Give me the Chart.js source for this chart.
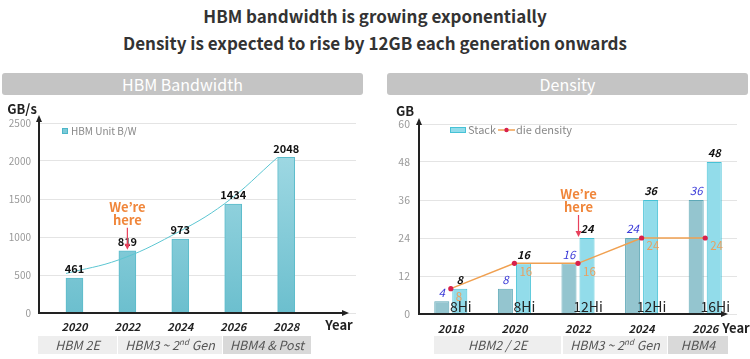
<!DOCTYPE html>
<html>
<head>
<meta charset="utf-8">
<script src="https://cdn.jsdelivr.net/npm/chart.js@4.4.1/dist/chart.umd.min.js"></script>
<style>
body { margin:0; width:750px; height:359px; background:#fff; position:relative; overflow:hidden; font-family:"Noto Sans CJK KR","Noto Sans",sans-serif; }
.title { position:absolute; left:0; width:750px; text-align:center; font-weight:bold; font-size:17px; color:#333; line-height:22px; }
.head { position:absolute; top:73px; height:22px; background:#c4c4c4; border-radius:3px; color:#fff; font-size:16px; line-height:22px; text-align:center; }
.gen { position:absolute; top:336px; height:18px; line-height:18px; background:#eeeeee; color:#555; font-style:italic; font-size:12.5px; text-align:center; }
.gen.dark { background:#d9d9d9; }
.gen sup { font-size:8px; vertical-align:top; line-height:12px; }
canvas { position:absolute; top:100px; }
</style>
</head>
<body>
<div class="title" style="top:5px">HBM bandwidth is growing exponentially</div>
<div class="title" style="top:32px">Density is expected to rise by 12GB each generation onwards</div>

<div class="head" style="left:2px;width:361px">HBM Bandwidth</div>
<div class="head" style="left:387px;width:361px">Density</div>

<canvas id="bwChart" width="370" height="240" style="left:0"></canvas>
<canvas id="denChart" width="375" height="240" style="left:375px"></canvas>

<div class="gen" style="left:38px;width:79px">HBM 2E</div>
<div class="gen" style="left:118px;width:104px">HBM3 ~ 2<sup>nd</sup> Gen</div>
<div class="gen dark" style="left:223px;width:88px">HBM4 &amp; Post</div>

<div class="gen" style="left:434px;width:127px">HBM2 / 2E</div>
<div class="gen" style="left:563px;width:104px">HBM3 ~ 2<sup>nd</sup> Gen</div>
<div class="gen dark" style="left:668px;width:60px">HBM4</div>

<script>
// bandwidth chart data
let bwYears = [2020, 2022, 2024, 2026, 2028];
let bwValues = [461, 819, 973, 1434, 2048];
let bwTrend = [520, 700, 1020, 1440, 2048];
let bwTicks = [0, 500, 1000, 1500, 2000, 2500];

// density chart data
let denYears = [2018, 2020, 2022, 2024, 2026];
let denPrev = [4, 8, 16, 24, 36];
let denStack = [8, 16, 24, 36, 48];
let denDie = [8, 16, 16, 24, 24];
let denHi = ['8Hi', '8Hi', '12Hi', '12Hi', '16Hi'];
let denTicks = [0, 12, 24, 36, 48, 60];

const FONT = '"Noto Sans CJK KR", "Noto Sans", sans-serif';

function drawAxes(ctx, a, yTip, xTip) {
    ctx.strokeStyle = '#222';
    ctx.fillStyle = '#222';
    ctx.lineWidth = 2;
    ctx.beginPath();
    ctx.moveTo(a.left, a.bottom + 1);
    ctx.lineTo(a.left, yTip + 5);
    ctx.moveTo(a.left - 1, a.bottom);
    ctx.lineTo(xTip - 5, a.bottom);
    ctx.stroke();
    ctx.beginPath();
    ctx.moveTo(a.left, yTip);
    ctx.lineTo(a.left - 3, yTip + 7);
    ctx.lineTo(a.left + 3, yTip + 7);
    ctx.closePath();
    ctx.fill();
    ctx.beginPath();
    ctx.moveTo(xTip, a.bottom);
    ctx.lineTo(xTip - 7, a.bottom - 3);
    ctx.lineTo(xTip - 7, a.bottom + 3);
    ctx.closePath();
    ctx.fill();
}

function weAreHere(ctx, x, top) {
    ctx.fillStyle = '#f0863a';
    ctx.font = 'bold 13px ' + FONT;
    ctx.textAlign = 'center';
    ctx.textBaseline = 'middle';
    ctx.fillText("We\u2019re", x, top - 44);
    ctx.fillText('here', x, top - 31);
    ctx.strokeStyle = '#e8415c';
    ctx.fillStyle = '#e8415c';
    ctx.lineWidth = 1.2;
    ctx.beginPath();
    ctx.moveTo(x, top - 23);
    ctx.lineTo(x, top - 5);
    ctx.stroke();
    ctx.beginPath();
    ctx.moveTo(x, top - 1);
    ctx.lineTo(x - 3, top - 7);
    ctx.lineTo(x + 3, top - 7);
    ctx.closePath();
    ctx.fill();
}

function fixedTicks(list) {
    return function(scale) {
        scale.ticks = list.map(v => ({ value: v }));
    };
}

const bwDecor = {
    id: 'bwDecor',
    afterDatasetsDraw(chart) {
        let ctx = chart.ctx;
        let a = chart.chartArea;
        let bars = chart.getDatasetMeta(1).data;
        ctx.save();
        drawAxes(ctx, a, a.top - 8, 349);

        ctx.font = 'bold 11px ' + FONT;
        ctx.fillStyle = '#111';
        ctx.textAlign = 'center';
        ctx.textBaseline = 'middle';
        bars.forEach((b, i) => ctx.fillText(bwValues[i], b.x, b.y - 9));

        weAreHere(ctx, bars[1].x, bars[1].y);

        ctx.fillStyle = '#222';
        ctx.font = 'bold 13px ' + FONT;
        ctx.textAlign = 'center';
        ctx.fillText('GB/s', 22, 9);
        ctx.fillText('Year', 339, a.bottom + 12);

        // legend
        ctx.fillStyle = '#7ccad8';
        ctx.strokeStyle = '#4cb6c8';
        ctx.lineWidth = 1;
        ctx.fillRect(62, a.top + 5, 6, 6);
        ctx.strokeRect(62.5, a.top + 5.5, 5, 5);
        ctx.fillStyle = '#888';
        ctx.font = '10px ' + FONT;
        ctx.textAlign = 'left';
        ctx.fillText('HBM Unit B/W', 71, a.top + 8);
        ctx.restore();
    }
};

const denDecor = {
    id: 'denDecor',
    afterDatasetsDraw(chart) {
        let ctx = chart.ctx;
        let a = chart.chartArea;
        let prev = chart.getDatasetMeta(1).data;
        let stack = chart.getDatasetMeta(2).data;
        let die = chart.getDatasetMeta(0).data;
        ctx.save();
        drawAxes(ctx, a, a.top - 6, 353);

        ctx.textAlign = 'center';
        ctx.textBaseline = 'middle';
        ctx.font = 'bold italic 11px ' + FONT;
        ctx.fillStyle = '#111';
        stack.forEach((b, i) => ctx.fillText(denStack[i], b.x, b.y - 9));
        ctx.font = 'italic 11.5px ' + FONT;
        ctx.fillStyle = '#3a3ad8';
        prev.forEach((b, i) => ctx.fillText(denPrev[i], b.x, b.y - 9));

        ctx.font = '11.5px ' + FONT;
        ctx.fillStyle = '#e9a060';
        ctx.textAlign = 'left';
        die.forEach((p, i) => ctx.fillText(denDie[i], p.x + 5, p.y + 8));

        ctx.font = '14px ' + FONT;
        ctx.fillStyle = '#222';
        ctx.textAlign = 'center';
        stack.forEach((b, i) => ctx.fillText(denHi[i], b.x + 1, a.bottom - 7));

        let s = stack[2];
        weAreHere(ctx, s.x - s.width / 2 - 1, s.y);

        ctx.fillStyle = '#222';
        ctx.font = 'bold 13px ' + FONT;
        ctx.textAlign = 'center';
        ctx.fillText('GB', 30, 11);
        ctx.fillText('Year', 361, a.bottom + 14);

        // legend
        ctx.fillStyle = '#92dcea';
        ctx.strokeStyle = '#46c2d6';
        ctx.lineWidth = 1;
        ctx.fillRect(75, a.top + 3, 16, 6);
        ctx.strokeRect(75.5, a.top + 3.5, 15, 5);
        ctx.strokeStyle = '#f0a050';
        ctx.lineWidth = 1.5;
        ctx.beginPath();
        ctx.moveTo(123, a.top + 6);
        ctx.lineTo(140, a.top + 6);
        ctx.stroke();
        ctx.fillStyle = '#d8204c';
        ctx.beginPath();
        ctx.arc(131.5, a.top + 6, 2.2, 0, Math.PI * 2);
        ctx.fill();
        ctx.fillStyle = '#888';
        ctx.font = '11px ' + FONT;
        ctx.textAlign = 'left';
        ctx.fillText('Stack', 93, a.top + 6);
        ctx.fillText('die density', 141, a.top + 6);
        ctx.restore();
    }
};

let yearTick = {
    color: '#222',
    font: { family: FONT, size: 11, style: 'italic', weight: 'bold' },
    callback: v => String(v)
};

let bwGradient = function(c) {
    let a = c.chart.chartArea;
    if (!a) return '#8fd0dc';
    let g = c.chart.ctx.createLinearGradient(0, a.top, 0, a.bottom);
    g.addColorStop(0, '#a8dde7');
    g.addColorStop(1, '#6cbfce');
    return g;
};

new Chart(document.getElementById('bwChart'), {
    type: 'bar',
    data: {
        datasets: [{
            type: 'line',
            label: 'trend',
            data: bwYears.map((x, i) => ({ x: x - 0.32, y: bwTrend[i] })),
            borderColor: '#5cc6d2',
            borderWidth: 1,
            pointRadius: 0,
            tension: 0.4,
            order: 0
        }, {
            label: 'HBM Unit B/W',
            data: bwYears.map((x, i) => ({ x: x, y: bwValues[i] })),
            backgroundColor: bwGradient,
            borderColor: '#5bbccb',
            borderWidth: 1,
            barThickness: 17,
            order: 1
        }]
    },
    options: {
        responsive: false,
        animation: false,
        layout: { padding: { left: 0, top: 23, right: 14, bottom: 0 } },
        plugins: { legend: { display: false }, tooltip: { enabled: false } },
        scales: {
            x: {
                type: 'linear',
                offset: false,
                min: 2018.66,
                max: 2030.64,
                afterBuildTicks: fixedTicks(bwYears),
                afterFit: s => { s.height = 27; },
                grid: { display: false },
                border: { display: false },
                ticks: Object.assign({ padding: -1 }, yearTick)
            },
            y: {
                min: 0,
                max: 2500,
                afterBuildTicks: fixedTicks(bwTicks),
                afterFit: s => { s.width = 39; },
                grid: { color: '#e4e4e4', drawTicks: false },
                border: { display: false },
                ticks: { color: '#999', padding: 8, font: { family: FONT, size: 10 }, callback: v => String(v) }
            }
        }
    },
    plugins: [bwDecor]
});

new Chart(document.getElementById('denChart'), {
    type: 'bar',
    data: {
        datasets: [{
            type: 'line',
            label: 'die density',
            data: denYears.map((x, i) => ({ x: x, y: denDie[i] })),
            borderColor: '#f0a050',
            borderWidth: 1.5,
            pointRadius: 2.6,
            pointBorderWidth: 0,
            pointBackgroundColor: '#d8204c',
            tension: 0,
            order: 0
        }, {
            label: 'prev',
            data: denYears.map((x, i) => ({ x: x, y: denPrev[i] })),
            backgroundColor: '#94c5cf',
            borderColor: '#5ea8b7',
            borderWidth: 1,
            categoryPercentage: 0.567,
            barPercentage: 0.833,
            order: 1
        }, {
            label: 'Stack',
            data: denYears.map((x, i) => ({ x: x, y: denStack[i] })),
            backgroundColor: '#92dcea',
            borderColor: '#46c2d6',
            borderWidth: 1,
            categoryPercentage: 0.567,
            barPercentage: 0.833,
            order: 1
        }]
    },
    options: {
        responsive: false,
        animation: false,
        layout: { padding: { left: 0, top: 24, right: 13, bottom: 0 } },
        plugins: { legend: { display: false }, tooltip: { enabled: false } },
        scales: {
            x: {
                type: 'linear',
                offset: false,
                min: 2017,
                max: 2027,
                afterBuildTicks: fixedTicks(denYears),
                afterFit: s => { s.height = 26; },
                grid: { display: false },
                border: { display: false },
                ticks: Object.assign({ padding: 0 }, yearTick)
            },
            y: {
                min: 0,
                max: 60,
                afterBuildTicks: fixedTicks(denTicks),
                afterFit: s => { s.width = 44; },
                grid: { color: '#e4e4e4', drawTicks: false },
                border: { display: false },
                ticks: { color: '#999', padding: 9, font: { family: FONT, size: 10.5 } }
            }
        }
    },
    plugins: [denDecor]
});
</script>
</body>
</html>
